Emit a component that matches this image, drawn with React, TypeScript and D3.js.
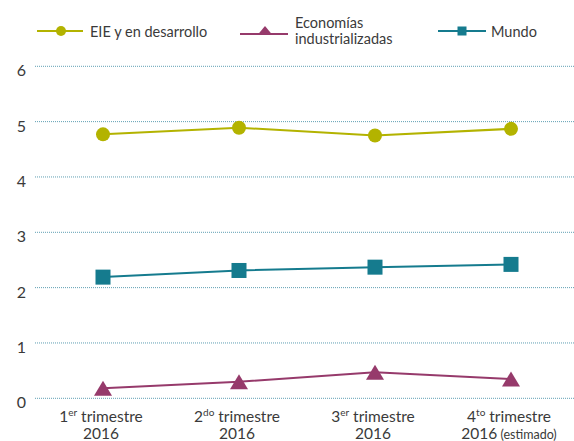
import React from "react";
import * as d3 from "d3";

const categories = ["1", "2", "3", "4"];
const catMain = ["1", "2", "3", "4"];
const catSup = ["er", "do", "er", "to"];
const catYear = ["2016", "2016", "2016", "2016"];
const catNote = ["", "", "", " (estimado)"];

const seriesNames = ["EIE y en desarrollo", "Economías industrializadas", "Mundo"];
const eieValues = [4.77, 4.89, 4.75, 4.87];
const industValues = [0.18, 0.3, 0.47, 0.35];
const mundoValues = [2.19, 2.31, 2.37, 2.42];
const yTicks = [0, 1, 2, 3, 4, 5, 6];

const W = 574;
const H = 441;
const FONT = "Lato, 'Open Sans', sans-serif";
const TEXT = "#3a3a3a";
const C_EIE = "#b3b300";
const C_IND = "#963a6b";
const C_MUN = "#157b8e";
const C_GRID = "#5f9fb3";

export default function App() {
  const x = d3.scaleBand<string>().domain(categories).range([35, 579]).padding(0);
  const cx = (c: string) => (x(c) as number) + x.bandwidth() / 2;
  const y = d3.scaleLinear().domain([0, 6]).range([398.3, 66.3]);
  const line = d3
    .line<number>()
    .x((_, i) => cx(categories[i]))
    .y((d) => y(d));

  const tri = (px: number, py: number, w: number, h: number) =>
    `M${px},${py - h / 2}L${px + w / 2},${py + h / 2}L${px - w / 2},${py + h / 2}Z`;

  return (
    <svg
      width={W}
      height={H}
      style={{ position: "absolute", left: 0, top: 0, background: "#fff" }}
      fontFamily={FONT}
    >
      {/* gridlines */}
      {yTicks.map((t) => (
        <g key={t}>
          <line
            x1={35}
            x2={W}
            y1={y(t)}
            y2={y(t)}
            stroke={C_GRID}
            strokeWidth={1}
            strokeDasharray="1 1"
          />
          <text x={26} y={y(t) + 10} textAnchor="end" fontSize={16} fill={TEXT}>
            {t}
          </text>
        </g>
      ))}

      {/* legend */}
      <g>
        <line x1={37} x2={83} y1={31} y2={31} stroke={C_EIE} strokeWidth={2} />
        <circle cx={61} cy={31} r={5} fill={C_EIE} />
        <text x={90} y={36.5} fontSize={14.5} fill={TEXT}>
          {seriesNames[0]}
        </text>

        <line x1={240} x2={288} y1={34} y2={34} stroke={C_IND} strokeWidth={2} />
        <path d={tri(265, 30.5, 15, 9)} fill={C_IND} />
        <text x={295} y={28} fontSize={14.5} fill={TEXT}>
          Economías
        </text>
        <text x={295} y={43.5} fontSize={14.5} fill={TEXT}>
          industrializadas
        </text>

        <line x1={438} x2={486} y1={31} y2={31} stroke={C_MUN} strokeWidth={2} />
        <rect x={457.5} y={26.5} width={9} height={9} fill={C_MUN} />
        <text x={491} y={36.5} fontSize={14.5} fill={TEXT}>
          {seriesNames[2]}
        </text>
      </g>

      {/* series lines */}
      <path d={line(eieValues) || ""} fill="none" stroke={C_EIE} strokeWidth={2} />
      <path d={line(mundoValues) || ""} fill="none" stroke={C_MUN} strokeWidth={2} />
      <path d={line(industValues) || ""} fill="none" stroke={C_IND} strokeWidth={2} />

      {eieValues.map((v, i) => (
        <circle key={"e" + i} cx={cx(categories[i])} cy={y(v)} r={7} fill={C_EIE} />
      ))}
      {mundoValues.map((v, i) => (
        <rect
          key={"m" + i}
          x={cx(categories[i]) - 7.5}
          y={y(v) - 7.5}
          width={15}
          height={15}
          fill={C_MUN}
        />
      ))}
      {industValues.map((v, i) => (
        <path key={"i" + i} d={tri(cx(categories[i]), y(v), 18, 15)} fill={C_IND} />
      ))}

      {/* x labels */}
      {categories.map((c, i) => (
        <g key={"x" + i}>
          <text x={cx(c) - 2} y={422} textAnchor="middle" fontSize={15.5} fill={TEXT}>
            {catMain[i]}
            <tspan fontSize={10} dy={-6}>
              {catSup[i]}
            </tspan>
            <tspan dy={6}> trimestre</tspan>
          </text>
          <text x={cx(c) - 2} y={438.5} textAnchor="middle" fontSize={15.5} fill={TEXT}>
            {catYear[i]}
            {catNote[i] ? <tspan fontSize={12.5}>{catNote[i]}</tspan> : null}
          </text>
        </g>
      ))}
    </svg>
  );
}
